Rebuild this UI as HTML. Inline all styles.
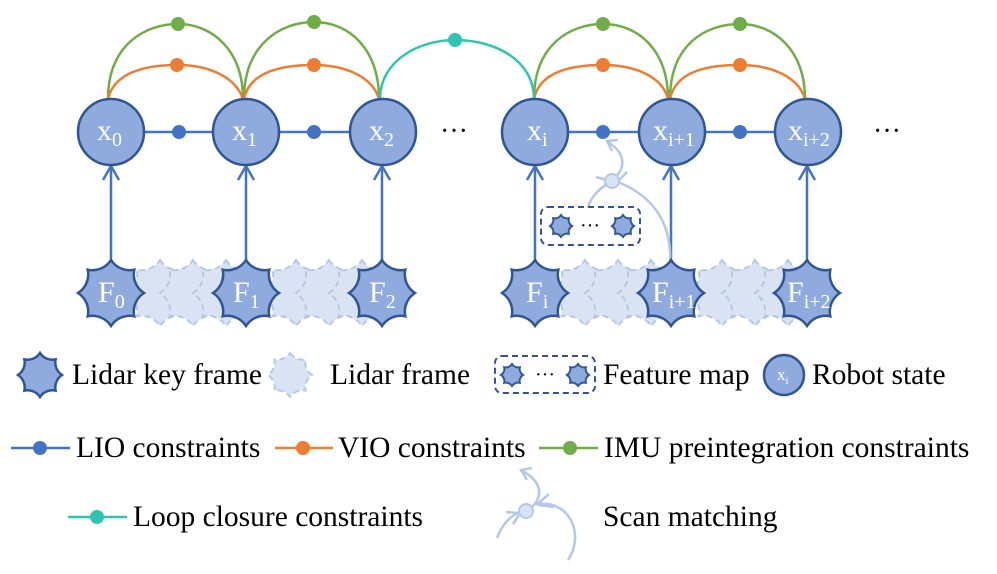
<!DOCTYPE html>
<html><head><meta charset="utf-8"><style>
html,body{margin:0;padding:0;background:#fff}
svg{display:block}
</style></head><body>
<svg width="997" height="574" viewBox="0 0 997 574" xmlns="http://www.w3.org/2000/svg" font-family="'Liberation Serif', serif">
<defs>
<path id="s33" d="M0,-33 A22,22 0 0 0 23.3,-23.3 A22,22 0 0 0 33,0 A22,22 0 0 0 23.3,23.3 A22,22 0 0 0 0,33 A22,22 0 0 0 -23.3,23.3 A22,22 0 0 0 -33,0 A22,22 0 0 0 -23.3,-23.3 A22,22 0 0 0 0,-33 Z"/>
<path id="s22" d="M0,-22 A15,15 0 0 0 15.6,-15.6 A15,15 0 0 0 22,0 A15,15 0 0 0 15.6,15.6 A15,15 0 0 0 0,22 A15,15 0 0 0 -15.6,15.6 A15,15 0 0 0 -22,0 A15,15 0 0 0 -15.6,-15.6 A15,15 0 0 0 0,-22 Z"/>
<path id="s11" d="M0,-11 A7.5,7.5 0 0 0 7.8,-7.8 A7.5,7.5 0 0 0 11,0 A7.5,7.5 0 0 0 7.8,7.8 A7.5,7.5 0 0 0 0,11 A7.5,7.5 0 0 0 -7.8,7.8 A7.5,7.5 0 0 0 -11,0 A7.5,7.5 0 0 0 -7.8,-7.8 A7.5,7.5 0 0 0 0,-11 Z"/>
</defs>
<g fill="none" stroke-width="2.5">
<path d="M108,99 C108,45 145,24 178,24 C212,24 243,50 243,99" stroke="#70ad47"/>
<path d="M244,99 C244,45 280,22 314,22 C350,22 379,50 379,99" stroke="#70ad47"/>
<path d="M534,99 C534,45 570,24 603,24 C638,24 668,50 668,99" stroke="#70ad47"/>
<path d="M670,99 C670,45 705,24 740,24 C774,24 805,50 805,99" stroke="#70ad47"/>
<path d="M108,99 C115,70 150,65 178,65 C205,65 235,75 243,99" stroke="#ed7d31"/>
<path d="M244,99 C250,70 285,65 314,65 C342,65 372,75 379,99" stroke="#ed7d31"/>
<path d="M534,99 C540,70 575,65 603,65 C632,65 662,75 668,99" stroke="#ed7d31"/>
<path d="M670,99 C676,70 710,65 740,65 C768,65 798,75 805,99" stroke="#ed7d31"/>
<path d="M380,99 C380,60 420,40 455,40 C495,40 534,60 534,99" stroke="#2ec4b0"/>
<line x1="111" y1="132" x2="383" y2="132" stroke="#4472c4"/>
<line x1="535" y1="132" x2="808" y2="132" stroke="#4472c4"/>
<g stroke="#4472c4">
<line x1="111" y1="260" x2="111" y2="168"/><polyline points="103,180 111,166 119,180"/>
<line x1="246" y1="260" x2="246" y2="168"/><polyline points="238,180 246,166 254,180"/>
<line x1="382" y1="260" x2="382" y2="168"/><polyline points="374,180 382,166 390,180"/>
<line x1="535" y1="260" x2="535" y2="168"/><polyline points="527,180 535,166 543,180"/>
<line x1="671" y1="260" x2="671" y2="168"/><polyline points="663,180 671,166 679,180"/>
<line x1="807" y1="260" x2="807" y2="168"/><polyline points="799,180 807,166 815,180"/>
</g>
<g stroke="#b4c7e7" stroke-width="2.5">
<path d="M588,207 C592,195 600,188 612,181"/>
<path d="M670,262 C672,220 650,195 618,182"/>
<path d="M612,180 C625,170 628,155 608,142"/>
<polyline points="618,140 607,141 612,151"/>
<line x1="596" y1="177" x2="607" y2="180"/><line x1="627" y1="172" x2="619" y2="180"/>
</g>
</g>
<g fill="#4472c4">
<circle cx="179" cy="132" r="7"/><circle cx="314" cy="132" r="7"/><circle cx="603" cy="132" r="7"/><circle cx="740" cy="132" r="7"/>
</g>
<g fill="#70ad47"><circle cx="178" cy="24" r="7"/><circle cx="314" cy="22" r="7"/><circle cx="603" cy="24" r="7"/><circle cx="740" cy="24" r="7"/></g>
<g fill="#ed7d31"><circle cx="177" cy="65" r="7"/><circle cx="314" cy="65" r="7"/><circle cx="603" cy="65" r="7"/><circle cx="740" cy="65" r="7"/></g>
<circle cx="455" cy="40" r="7" fill="#2ec4b0"/>
<circle cx="612" cy="181" r="7" fill="#dae3f3" stroke="#b4c7e7" stroke-width="2"/>
<g fill="#8faadc" stroke="#2f5597" stroke-width="2.5">
<circle cx="111" cy="132" r="33"/><circle cx="246" cy="132" r="33"/><circle cx="383" cy="132" r="33"/>
<circle cx="535" cy="132" r="33"/><circle cx="672" cy="132" r="33"/><circle cx="808" cy="132" r="33"/>
</g>
<g fill="#fff" font-size="30">
<text x="97" y="140">x<tspan font-size="20" dy="6">0</tspan></text>
<text x="232" y="140">x<tspan font-size="20" dy="6">1</tspan></text>
<text x="369" y="140">x<tspan font-size="20" dy="6">2</tspan></text>
<text x="527" y="140">x<tspan font-size="20" dy="6">i</tspan></text>
<text x="653" y="140">x<tspan font-size="20" dy="6">i+1</tspan></text>
<text x="788" y="140">x<tspan font-size="20" dy="6">i+2</tspan></text>
</g>
<text x="440" y="140" font-size="28">···</text>
<text x="873" y="140" font-size="28">···</text>
<g fill="#dae3f3" stroke="#b4c7e7" stroke-width="2" stroke-dasharray="6 4">
<use href="#s33" x="160" y="293"/><use href="#s33" x="193" y="293"/><use href="#s33" x="226" y="293"/>
<use href="#s33" x="296" y="293"/><use href="#s33" x="329" y="293"/><use href="#s33" x="362" y="293"/>
<use href="#s33" x="585" y="293"/><use href="#s33" x="618" y="293"/><use href="#s33" x="651" y="293"/>
<use href="#s33" x="722" y="293"/><use href="#s33" x="755" y="293"/><use href="#s33" x="788" y="293"/>
<use href="#s22" x="290" y="375"/>
</g>
<g fill="#8faadc" stroke="#2f5597" stroke-width="2.5">
<use href="#s33" x="111" y="293"/><use href="#s33" x="246" y="293"/><use href="#s33" x="382" y="293"/>
<use href="#s33" x="535" y="293"/><use href="#s33" x="671" y="293"/><use href="#s33" x="807" y="293"/>
<use href="#s22" x="40" y="375"/>
</g>
<g fill="#8faadc" stroke="#2f5597" stroke-width="2">
<use href="#s11" x="561" y="226"/><use href="#s11" x="623" y="226"/>
<use href="#s11" x="512" y="375"/><use href="#s11" x="578" y="375"/>
</g>
<g fill="#fff" font-size="30">
<text x="98" y="302">F<tspan font-size="20" dy="6">0</tspan></text>
<text x="233" y="302">F<tspan font-size="20" dy="6">1</tspan></text>
<text x="369" y="302">F<tspan font-size="20" dy="6">2</tspan></text>
<text x="526" y="302">F<tspan font-size="20" dy="6">i</tspan></text>
<text x="652" y="302">F<tspan font-size="20" dy="6">i+1</tspan></text>
<text x="787" y="302">F<tspan font-size="20" dy="6">i+2</tspan></text>
</g>
<rect x="541" y="207" width="99" height="38" rx="7" fill="none" stroke="#2f5597" stroke-width="2" stroke-dasharray="6 4"/>
<text x="580" y="232" font-size="20">···</text>
<rect x="495" y="356" width="100" height="37" rx="7" fill="none" stroke="#2f5597" stroke-width="2" stroke-dasharray="6 4"/>
<text x="535" y="381" font-size="20">···</text>
<circle cx="784" cy="375" r="20" fill="#8faadc" stroke="#2f5597" stroke-width="2.5"/>
<text x="777" y="380" fill="#fff" font-size="17">x<tspan font-size="11" dy="4">i</tspan></text>
<g font-size="29.5" fill="#000">
<text x="72" y="384">Lidar key frame</text>
<text x="330" y="384">Lidar frame</text>
<text x="603" y="384">Feature map</text>
<text x="812" y="384">Robot state</text>
<text x="76" y="457">LIO constraints</text>
<text x="338" y="457">VIO constraints</text>
<text x="604" y="457">IMU preintegration constraints</text>
<text x="133" y="526">Loop closure constraints</text>
<text x="603" y="526">Scan matching</text>
</g>
<g stroke-width="2.5">
<line x1="11" y1="448" x2="70" y2="448" stroke="#4472c4"/><circle cx="40" cy="448" r="7" fill="#4472c4"/>
<line x1="275" y1="448" x2="333" y2="448" stroke="#ed7d31"/><circle cx="303" cy="448" r="7" fill="#ed7d31"/>
<line x1="539" y1="448" x2="598" y2="448" stroke="#70ad47"/><circle cx="570" cy="448" r="7" fill="#70ad47"/>
<line x1="68" y1="517" x2="127" y2="517" stroke="#2ec4b0"/><circle cx="97" cy="517" r="7" fill="#2ec4b0"/>
</g>
<g fill="none" stroke="#b4c7e7" stroke-width="2.5">
<path d="M497,538 C502,525 510,516 520,512"/>
<path d="M568,560 C585,535 570,500 538,504"/>
<path d="M531,508 C545,495 540,480 522,471"/>
<polyline points="532,468 521,470 527,480"/>
<line x1="506" y1="512" x2="518" y2="513"/><line x1="513" y1="524" x2="519" y2="515"/>
<line x1="549" y1="494" x2="536" y2="505"/><line x1="554" y1="507" x2="538" y2="505"/>
</g>
<circle cx="526" cy="511" r="7" fill="#dae3f3" stroke="#b4c7e7" stroke-width="2"/>
</svg>
</body></html>
